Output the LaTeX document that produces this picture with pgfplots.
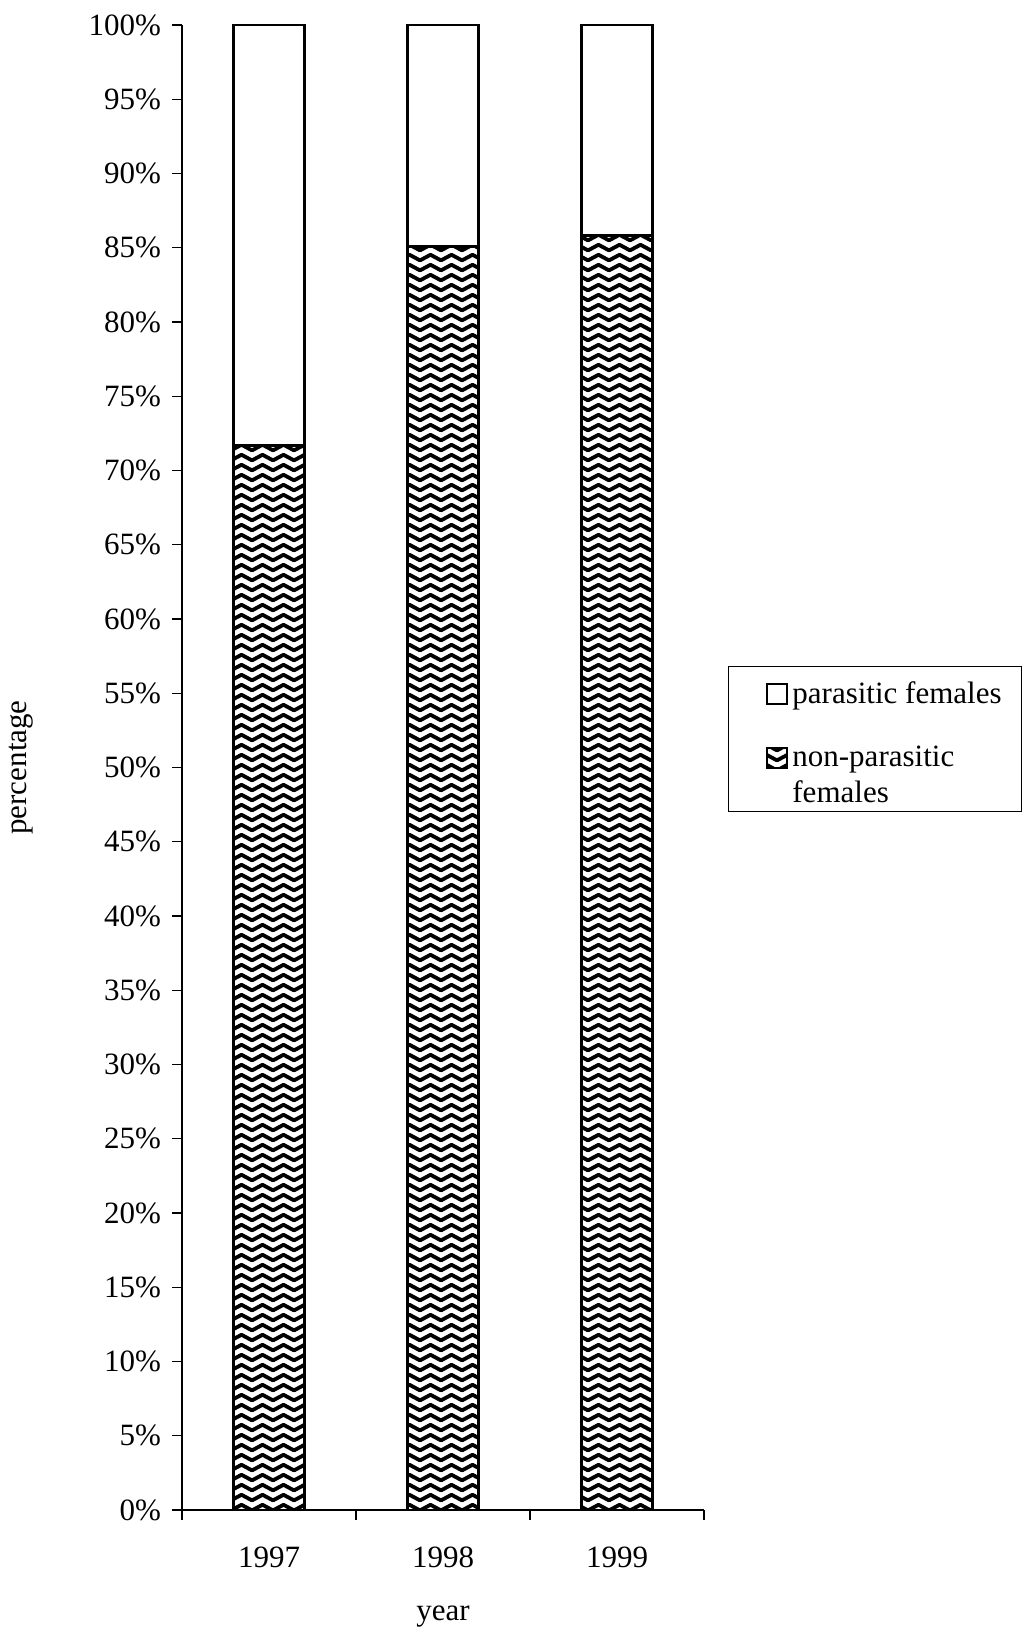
\documentclass[border=0pt]{standalone}
\usepackage{fontspec}
\setmainfont{Liberation Serif}
\usepackage{pgfplots}
\pgfplotsset{compat=1.18}
\usetikzlibrary{patterns}

% wavy fill used in the lower bars
\pgfdeclarepatternformonly{waves}{\pgfpoint{-1.5pt}{-1pt}}{\pgfpoint{12pt}{4.5pt}}{\pgfpoint{10.5pt}{5pt}}{
  \pgfsetlinewidth{1.9pt}\pgfsetroundcap\pgfsetroundjoin
  \pgfpathmoveto{\pgfpoint{0pt}{0.3pt}}
  \pgfpathlineto{\pgfpoint{5.25pt}{3.1pt}}
  \pgfpathlineto{\pgfpoint{10.5pt}{0.3pt}}
  \pgfusepath{stroke}
}

\begin{document}
\begin{tikzpicture}[font=\fontsize{15.5}{18}\selectfont]
\useasboundingbox (-91pt,-60.5pt) rectangle (421pt,755pt);
\begin{axis}[
    at={(0,0)}, anchor=south west,
    width=261pt, height=742.5pt, scale only axis,
    ybar stacked, bar width=35.5pt,
    xmin=-0.5, xmax=2.5, ymin=0, ymax=100,
    axis lines*=left,
    axis line style={line width=0.6pt},
    tick align=outside, major tick length=5pt,
    tick style={black, line width=0.6pt},
    ytick={0,5,...,100},
    yticklabel={\pgfmathprintnumber{\tick}\%},
    /pgf/number format/assume math mode=true,
    yticklabel style={xshift=-2pt},
    xtick={-0.5,0.5,1.5,2.5}, xticklabels={},
    extra x ticks={0,1,2},
    extra x tick labels={1997,1998,1999},
    extra x tick style={major tick length=0pt,
        xticklabel style={anchor=base, yshift=-28.5pt}},
    xlabel={year}, ylabel={percentage},
    xlabel style={at={(axis description cs:0.5,-0.0741)}, anchor=base},
    ylabel style={at={(axis description cs:-0.3084,0.5)}, anchor=center},
    reverse legend,
    legend style={at={(1.046,0.5684)}, anchor=north west,
        draw=black, line width=0.6pt, inner xsep=8pt, inner ysep=1pt,
        row sep=16pt, nodes={inner xsep=2pt},
        cells={anchor=west, align=left}},
]
\addplot[draw=black, line width=1.4pt, pattern=waves,
    legend image code/.code={
        \path (0pt,0pt);
        \draw[line width=1.4pt, pattern=waves] (10.5pt,4pt) rectangle (20.5pt,14pt);}]
    coordinates {(0,71.7) (1,85.1) (2,85.8)};
\addlegendentry{non-parasitic\\females}
\addplot[draw=black, fill=white, line width=1.4pt,
    legend image code/.code={
        \path (0pt,0pt) (0pt,12pt);
        \draw[line width=1.4pt, fill=white] (10.5pt,-5pt) rectangle (20.5pt,5pt);}]
    coordinates {(0,28.3) (1,14.9) (2,14.2)};
\addlegendentry{parasitic females}
\end{axis}
\end{tikzpicture}
\end{document}
